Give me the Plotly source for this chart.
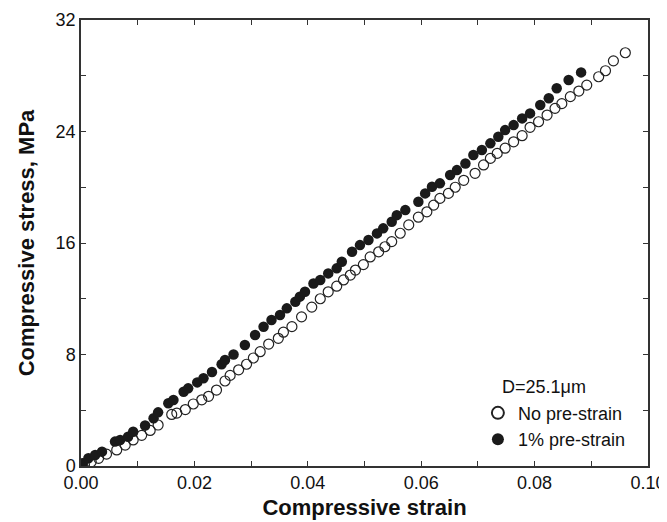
import plotly.graph_objects as go

# Open circles: no pre-strain
no_pre_strain_x = [0.0006, 0.0018, 0.0031, 0.0045, 0.0063, 0.0078, 0.0092, 0.0107, 0.0122, 0.0136,
                   0.0160, 0.0169, 0.0184, 0.0198, 0.0213, 0.0225, 0.0239, 0.0254, 0.0263, 0.0278,
                   0.0292, 0.0304, 0.0316, 0.0331, 0.0348, 0.0357, 0.0372, 0.0389, 0.0407, 0.0422,
                   0.0436, 0.0451, 0.0463, 0.0475, 0.0484, 0.0498, 0.0510, 0.0525, 0.0536, 0.0548,
                   0.0563, 0.0578, 0.0595, 0.0610, 0.0622, 0.0633, 0.0648, 0.0660, 0.0675, 0.0695,
                   0.0710, 0.0722, 0.0734, 0.0748, 0.0763, 0.0778, 0.0792, 0.0807, 0.0822, 0.0836,
                   0.0848, 0.0863, 0.0878, 0.0892, 0.0913, 0.0925, 0.0939, 0.0960]
no_pre_strain_y = [0.10, 0.30, 0.55, 0.85, 1.15, 1.50, 1.87, 2.20, 2.55, 2.94,
                   3.70, 3.80, 4.05, 4.45, 4.75, 5.00, 5.45, 6.10, 6.50, 6.90,
                   7.30, 7.75, 8.20, 8.75, 9.16, 9.60, 10.00, 10.70, 11.40, 12.00,
                   12.50, 12.90, 13.35, 13.70, 14.06, 14.45, 15.00, 15.37, 15.73, 16.10,
                   16.70, 17.30, 17.85, 18.24, 18.72, 19.20, 19.56, 20.00, 20.50, 21.00,
                   21.60, 22.07, 22.43, 22.80, 23.26, 23.70, 24.30, 24.70, 25.18, 25.66,
                   26.00, 26.50, 26.90, 27.33, 27.93, 28.36, 29.07, 29.65]

# Filled circles: 1% pre-strain
pre_strain_x = [0.0003, 0.0013, 0.0025, 0.0037, 0.0060, 0.0069, 0.0083, 0.0092, 0.0113, 0.0128,
                0.0136, 0.0154, 0.0163, 0.0181, 0.0189, 0.0205, 0.0216, 0.0231, 0.0248, 0.0254,
                0.0269, 0.0289, 0.0307, 0.0322, 0.0336, 0.0351, 0.0363, 0.0378, 0.0386, 0.0395,
                0.0410, 0.0422, 0.0436, 0.0451, 0.0460, 0.0478, 0.0492, 0.0507, 0.0522, 0.0533,
                0.0548, 0.0557, 0.0572, 0.0595, 0.0607, 0.0619, 0.0633, 0.0651, 0.0663, 0.0678,
                0.0692, 0.0707, 0.0722, 0.0736, 0.0748, 0.0763, 0.0778, 0.0792, 0.0810, 0.0825,
                0.0839, 0.0860, 0.0882]
pre_strain_y = [0.20, 0.55, 0.79, 1.03, 1.75, 1.87, 2.10, 2.46, 2.90, 3.42,
                3.85, 4.50, 4.73, 5.33, 5.57, 6.00, 6.29, 6.75, 7.30, 7.60,
                8.00, 8.68, 9.40, 9.99, 10.47, 10.83, 11.31, 11.79, 12.15, 12.50,
                13.10, 13.34, 13.82, 14.18, 14.66, 15.37, 15.85, 16.21, 16.69, 17.05,
                17.53, 18.00, 18.36, 18.96, 19.56, 20.04, 20.28, 20.88, 21.23, 21.71,
                22.31, 22.67, 23.15, 23.62, 24.10, 24.46, 24.94, 25.30, 25.90, 26.38,
                27.10, 27.69, 28.24]

x_tick_vals = [0.00, 0.01, 0.02, 0.03, 0.04, 0.05, 0.06, 0.07, 0.08, 0.09, 0.10]
x_tick_text = ["0.00", "", "0.02", "", "0.04", "", "0.06", "", "0.08", "", "0.10"]
y_tick_vals = [0, 4, 8, 12, 16, 20, 24, 28, 32]
y_tick_text = ["0", "", "8", "", "16", "", "24", "", "32"]

FONT = "Liberation Sans, Arial, sans-serif"

fig = go.Figure()
fig.add_trace(go.Scatter(
    x=no_pre_strain_x, y=no_pre_strain_y, mode="markers", name="No pre-strain",
    marker=dict(symbol="circle-open", size=10, color="#222222", line=dict(width=1.2)),
))
fig.add_trace(go.Scatter(
    x=pre_strain_x, y=pre_strain_y, mode="markers", name="1% pre-strain",
    marker=dict(symbol="circle", size=10.5, color="#1a1a1a"),
))

axis_common = dict(
    showline=True, linecolor="#333333", linewidth=1.5, mirror="ticks",
    ticks="inside", ticklen=5, tickwidth=1, tickcolor="#333333",
    showgrid=False, zeroline=False, automargin=False,
    tickfont=dict(family=FONT, size=18, color="#111111"),
)

# page has an 8px body margin; figure sized/margined to compensate
fig.update_layout(
    width=659, height=514,
    margin=dict(l=73, r=19, t=12, b=56),
    paper_bgcolor="white", plot_bgcolor="white",
    font=dict(family=FONT, color="#111111"),
    xaxis=dict(range=[0, 0.10], tickvals=x_tick_vals, ticktext=x_tick_text,
               title=dict(text="<b>Compressive strain</b>", font=dict(family=FONT, size=22), standoff=7),
               **axis_common),
    yaxis=dict(range=[0, 32], tickvals=y_tick_vals, ticktext=y_tick_text,
               title=dict(text="<b>Compressive stress, MPa</b>", font=dict(family=FONT, size=22), standoff=15),
               **axis_common),
    legend=dict(x=0.70, y=0.16, xanchor="left", yanchor="top",
                font=dict(family=FONT, size=18, color="#111111"),
                bgcolor="rgba(0,0,0,0)", tracegroupgap=0, itemsizing="constant"),
    showlegend=True,
    annotations=[dict(text="D=25.1\u03bcm", x=0.739, y=0.177, xref="paper", yref="paper",
                      xanchor="left", yanchor="middle", showarrow=False,
                      font=dict(family=FONT, size=18, color="#111111"))],
)

fig.write_html("out.html")
